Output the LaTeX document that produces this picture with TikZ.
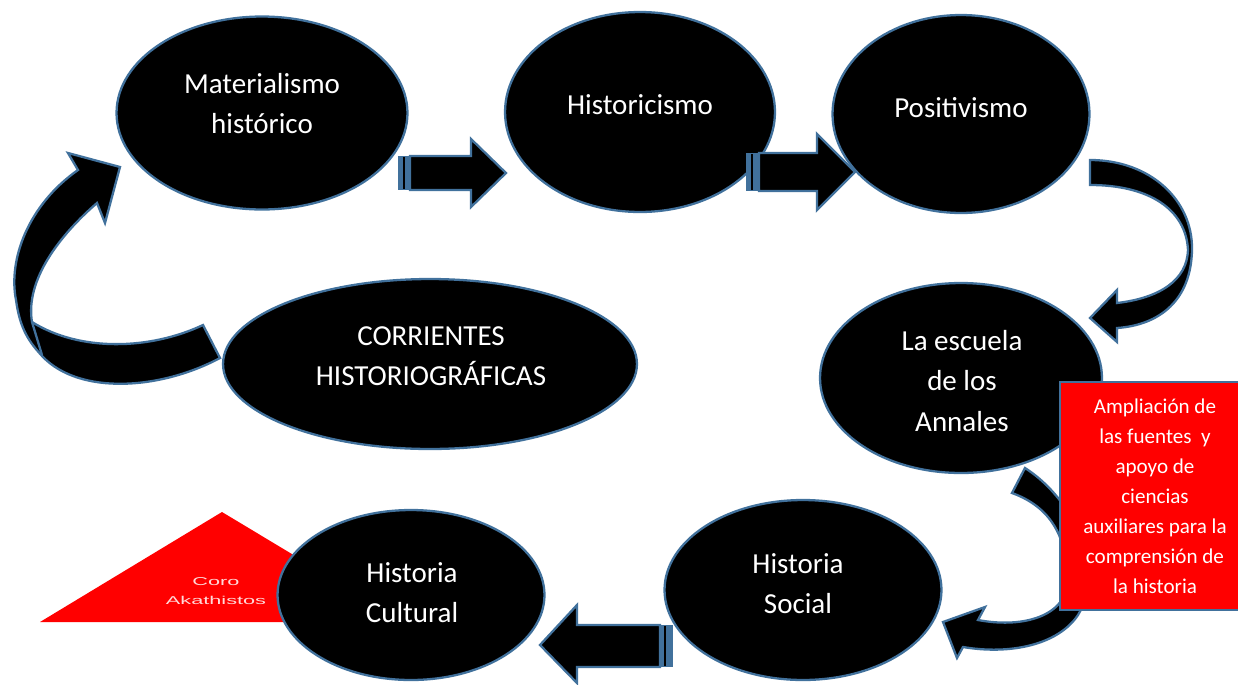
\documentclass[tikz,border=0pt]{standalone}
\usepackage{fontspec}
\usepackage{graphicx}
\setmainfont{Carlito}
\newfontfamily\corofont{Liberation Sans}
\usetikzlibrary{shapes.geometric}
\definecolor{edgeblue}{RGB}{65,113,156}

\begin{document}
\begin{tikzpicture}[x=0.02cm, y=-0.02cm, line width=1.3pt]
\tikzset{oval/.style={ellipse, draw=edgeblue, fill=black, inner sep=0pt}}
\tikzset{txt/.style={text=white, align=center, inner sep=0pt, font=\fontsize{16.5}{22.8}\selectfont}}
\tikzset{fatarrow/.style={draw=edgeblue, fill=black, line join=miter}}
\tikzset{stripe/.style={fill=edgeblue}}
\useasboundingbox (0,0) rectangle (1238,684);

% red triangle in the back
\fill[red] (222,512) -- (40,622) -- (405,622) -- cycle;
\node[text=white!85!red, align=center, inner sep=0pt,
  font=\corofont\fontsize{6.5}{10.5}\selectfont] (coro) at (216,591)
  {\scalebox{1.9}[1]{Coro}\\\scalebox{1.9}[1]{Akathistos}};

% curved arrows
\draw[fatarrow] (203,325) -- (220,358)
  .. controls (160,390) and (80,395) .. (43,357)
  .. controls (30,343) and (20,330) .. (16,300)
  .. controls (8,260) and (28,205) .. (78,170)
  -- (68,153) -- (120,167) -- (105,223) -- (97,203)
  .. controls (60,235) and (25,280) .. (32,322)
  .. controls (80,352) and (150,350) .. (203,325) -- cycle;
\draw[edgeblue] (32,322) -- (42,355);
\draw[fatarrow] (1090,160)
  .. controls (1150,160) and (1193,200) .. (1192,250)
  .. controls (1191,300) and (1160,325) .. (1117,328)
  -- (1117,342) -- (1090,318) -- (1117,290) -- (1117,303)
  .. controls (1160,298) and (1187,280) .. (1188,250)
  .. controls (1186,210) and (1150,185) .. (1090,185) -- cycle;
\draw[fatarrow] (1025,468)
  .. controls (1075,500) and (1105,570) .. (1078,615)
  .. controls (1058,645) and (1010,655) .. (963,647)
  -- (957,658) -- (943,622) -- (985,607) -- (978,620)
  .. controls (1020,628) and (1062,618) .. (1068,585)
  .. controls (1068,530) and (1045,505) .. (1012,493) -- cycle;

% ellipses
\node[oval, minimum width=5.82cm, minimum height=3.86cm] (mat) at (262,113) {};
\node[oval, minimum width=5.40cm, minimum height=4.00cm] (hist) at (640,112) {};
\node[oval, minimum width=5.14cm, minimum height=3.96cm] (pos) at (961,114) {};
\node[oval, minimum width=5.64cm, minimum height=3.80cm] (ann) at (961,378) {};
\node[oval, minimum width=8.28cm, minimum height=3.40cm] (corr) at (430,364) {};
\node[oval, minimum width=5.54cm, minimum height=3.60cm] (soc) at (803,590) {};
\node[oval, minimum width=5.34cm, minimum height=3.40cm] (cul) at (411,595) {};

\node[txt] (mat-t) at (262,104) {Materialismo\\histórico};
\node[txt] (hist-t) at (640,105) {Historicismo};
\node[txt] (pos-t) at (961,108) {Positivismo};
\node[txt] (ann-t) at (962,381) {La escuela\\de los\\Annales};
\node[txt] (corr-t) at (431,356) {CORRIENTES\\HISTORIOGRÁFICAS};
\node[txt] (soc-t) at (798,584) {Historia\\Social};
\node[txt] (cul-t) at (412,593) {Historia\\Cultural};

% striped block arrows
\fill[stripe] (398,156) rectangle (410,190);
\draw[black, line width=0.6pt] (404,157) -- (404,189);
\draw[fatarrow] (410,156) -- (471,156) -- (471,139) -- (506,173)
  -- (471,207) -- (471,190) -- (410,190) -- cycle;
\fill[stripe] (746,153) rectangle (759,191);
\draw[black, line width=0.6pt] (752,154) -- (752,190);
\draw[fatarrow] (759,153) -- (817,153) -- (817,134) -- (855,172)
  -- (817,210) -- (817,191) -- (759,191) -- cycle;
\fill[stripe] (660,625) rectangle (673,667);
\draw[black, line width=0.6pt] (665,626) -- (665,666);
\draw[fatarrow] (660,625) -- (577,625) -- (577,605) -- (540,645)
  -- (577,683) -- (577,667) -- (660,667) -- cycle;

% note box
\node[draw=edgeblue, fill=red, minimum width=3.8cm, minimum height=4.56cm,
  inner sep=0pt, text=white, align=center,
  font=\fontsize{12}{17.1}\selectfont] (nota) at (1155,496)
  {Ampliación de\\las fuentes~ y\\apoyo de\\ciencias\\auxiliares para la\\comprensión de\\la historia};
\end{tikzpicture}
\end{document}
